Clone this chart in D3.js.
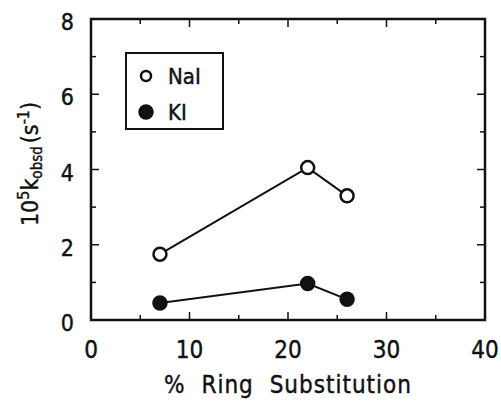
<!DOCTYPE html>
<html>
<head>
<meta charset="utf-8">
<script src="https://d3js.org/d3.v7.min.js"></script>
<style>
body { margin: 0; background: #fff; }
text { font-family: "DejaVu Sans Condensed", "DejaVu Sans", sans-serif; fill: #111; stroke: #111; stroke-width: 0.4px; }
</style>
</head>
<body>
<svg id="chart" width="501" height="404"></svg>
<script>
var ring = [7, 22, 26];
var nai = [1.75, 4.05, 3.3];
var ki = [0.45, 0.97, 0.55];
var xTicks = [0, 10, 20, 30, 40];
var yTicks = [0, 2, 4, 6, 8];
var legendNames = ["NaI", "KI"];

var svg = d3.select("#chart");
var x = d3.scaleLinear().domain([0, 40]).range([91, 485]);
var y = d3.scaleLinear().domain([0, 8]).range([320, 19]);

var g = svg.append("g");

// frame
g.append("rect")
  .attr("x", x(0)).attr("y", y(8))
  .attr("width", x(40) - x(0)).attr("height", y(0) - y(8))
  .attr("fill", "none").attr("stroke", "#111").attr("stroke-width", 2.5);

// ticks, all pointing inwards
var xt = d3.range(5, 40, 5);
g.selectAll(".xb").data(xt).enter().append("line")
  .attr("x1", d => x(d)).attr("x2", d => x(d))
  .attr("y1", y(0)).attr("y2", d => y(0) - (d % 10 == 0 ? 8 : 5))
  .attr("stroke", "#111").attr("stroke-width", 1.5);
g.selectAll(".xt").data(xt).enter().append("line")
  .attr("x1", d => x(d)).attr("x2", d => x(d))
  .attr("y1", y(8)).attr("y2", d => y(8) + (d % 10 == 0 ? 8 : 5))
  .attr("stroke", "#111").attr("stroke-width", 1.5);
var yt = d3.range(1, 8, 1);
g.selectAll(".yl").data(yt).enter().append("line")
  .attr("y1", d => y(d)).attr("y2", d => y(d))
  .attr("x1", x(0)).attr("x2", d => x(0) + (d % 2 == 0 ? 8 : 5))
  .attr("stroke", "#111").attr("stroke-width", 1.5);
g.selectAll(".yr").data(yt).enter().append("line")
  .attr("y1", d => y(d)).attr("y2", d => y(d))
  .attr("x1", x(40)).attr("x2", d => x(40) - (d % 2 == 0 ? 8 : 5))
  .attr("stroke", "#111").attr("stroke-width", 1.5);

// tick labels
g.selectAll(".xl").data(xTicks).enter().append("text")
  .attr("x", d => x(d)).attr("y", 358)
  .attr("text-anchor", "middle").attr("font-size", 24)
  .text(d => d);
g.selectAll(".ylab").data(yTicks).enter().append("text")
  .attr("x", 74).attr("y", d => y(d) + 11)
  .attr("text-anchor", "end").attr("font-size", 23)
  .text(d => d);

// axis titles
svg.append("text")
  .attr("x", 288).attr("y", 393)
  .attr("text-anchor", "middle").attr("font-size", 24)
  .style("word-spacing", "8px").style("letter-spacing", "1px")
  .text("% Ring Substitution");

var yl = svg.append("text")
  .attr("transform", "translate(38,164) rotate(-90)")
  .attr("text-anchor", "middle").attr("font-size", 23);
yl.append("tspan").text("10");
yl.append("tspan").attr("font-size", 16).attr("dy", -9).text("5");
yl.append("tspan").attr("dy", 9).text("k");
yl.append("tspan").attr("font-size", 15).attr("dy", 4).text("obsd");
yl.append("tspan").attr("dy", -4).attr("dx", 3).text("(s");
yl.append("tspan").attr("font-size", 16).attr("dy", -9).text("-1");
yl.append("tspan").attr("dy", 9).text(")");

// series
var line = d3.line().x(d => x(d[0])).y(d => y(d[1]));
var series = [
  { name: legendNames[0], vals: nai, fill: "#fff" },
  { name: legendNames[1], vals: ki, fill: "#111" }
];
series.forEach(function(s) {
  var pts = ring.map((r, i) => [r, s.vals[i]]);
  g.append("path").attr("d", line(pts))
    .attr("fill", "none").attr("stroke", "#111").attr("stroke-width", 2);
  g.selectAll(null).data(pts).enter().append("circle")
    .attr("cx", d => x(d[0])).attr("cy", d => y(d[1]))
    .attr("r", 6.5).attr("fill", s.fill)
    .attr("stroke", "#111").attr("stroke-width", 2.5);
});

// legend
var lg = svg.append("g");
lg.append("rect").attr("x", 126).attr("y", 53).attr("width", 97).attr("height", 76)
  .attr("fill", "#fff").attr("stroke", "#111").attr("stroke-width", 2);
series.forEach(function(s, i) {
  var cy = 76 + i * 36;
  lg.append("circle").attr("cx", 146).attr("cy", cy).attr("r", i == 0 ? 5 : 6.5)
    .attr("fill", s.fill).attr("stroke", "#111").attr("stroke-width", 2.5);
  lg.append("text").attr("x", 168).attr("y", cy + 8).attr("font-size", 22).text(s.name);
});
</script>
</body>
</html>
